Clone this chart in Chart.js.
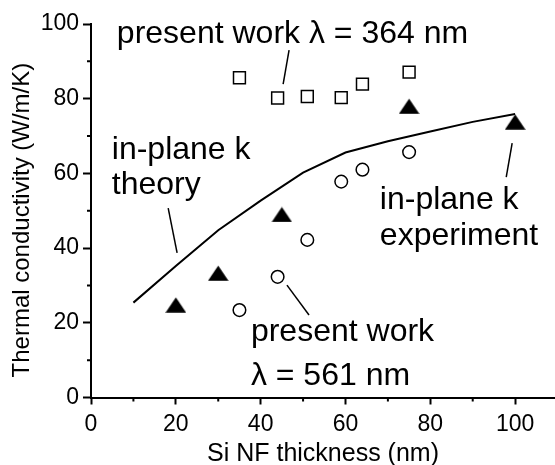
<!DOCTYPE html>
<html>
<head>
<meta charset="utf-8">
<title>Si NF thermal conductivity</title>
<script src="https://cdn.jsdelivr.net/npm/chart.js@4.4.0/dist/chart.umd.min.js"></script>
<style>
    html, body { margin: 0; padding: 0; background: #fff; }
    canvas { display: block; }
</style>
</head>
<body>
<canvas id="kChart" width="555" height="465"></canvas>
<script>
// axis ticks
const xTicks = [0, 20, 40, 60, 80, 100];
const yTicks = [0, 20, 40, 60, 80, 100];

// in-plane k, theory curve
const theoryX = [10, 20, 30, 40, 50, 60, 70, 80, 90, 100];
const theoryK = [25.4, 35.2, 44.8, 52.7, 60.2, 65.6, 68.6, 71.2, 73.8, 75.9];

// in-plane k, experiment
const expX = [20, 30, 45, 75, 100];
const expK = [24.8, 33.3, 49, 78, 73.8];

// present work, both wavelengths share the same films
const workX = [35, 44, 51, 59, 64, 75];
const work364 = [85.6, 80.2, 80.6, 80.3, 83.9, 87.1];
const work561 = [23.4, 32.3, 42.2, 57.8, 61, 65.7];

const FONT = '"Liberation Sans", Arial, Helvetica, sans-serif';

// labels and their leader lines, placed in data units
const notes = [
    { lines: ['present work \u03bb = 364 nm'], x: 6.1, y: [95.0] },
    { lines: ['in-plane k', 'theory'], x: 4.9, y: [63.9, 54.5] },
    { lines: ['in-plane k', 'experiment'], x: 68.1, y: [50.5, 40.8] },
    { lines: ['present work', '\u03bb = 561 nm'], x: 37.7, y: [15.0, 3.35] }
];
const leaders = [
    [46.7, 93.0, 45.3, 83.9],
    [18.2, 50.7, 20.3, 38.7],
    [99.3, 68.1, 97.9, 59.0],
    [46.2, 30.1, 51.4, 22.1]
];

function pairs(xs, ys) {
    return xs.map((x, i) => ({ x: x, y: ys[i] }));
}

// filled triangle, a bit wider than tall
function triangleMarker() {
    const c = document.createElement('canvas');
    c.width = 21;
    c.height = 16;
    const g = c.getContext('2d');
    g.fillStyle = '#000';
    g.beginPath();
    g.moveTo(10.5, 0.5);
    g.lineTo(20.8, 15.7);
    g.lineTo(0.2, 15.7);
    g.closePath();
    g.fill();
    return c;
}

const decorations = {
    id: 'decorations',
    afterDraw(chart) {
        const ctx = chart.ctx;
        const xs = chart.scales.x;
        const ys = chart.scales.y;
        const area = chart.chartArea;

        ctx.save();
        ctx.strokeStyle = '#000';
        ctx.fillStyle = '#000';

        // minor ticks between the labelled ones
        ctx.lineWidth = 2;
        ctx.beginPath();
        for (let i = 0; i < xTicks.length - 1; i++) {
            const px = xs.getPixelForValue((xTicks[i] + xTicks[i + 1]) / 2);
            ctx.moveTo(px, area.bottom);
            ctx.lineTo(px, area.bottom + 4);
        }
        for (let i = 0; i < yTicks.length - 1; i++) {
            const py = ys.getPixelForValue((yTicks[i] + yTicks[i + 1]) / 2);
            ctx.moveTo(area.left, py);
            ctx.lineTo(area.left - 4, py);
        }
        ctx.stroke();

        // leader lines
        ctx.lineWidth = 1.5;
        leaders.forEach(l => {
            ctx.beginPath();
            ctx.moveTo(xs.getPixelForValue(l[0]), ys.getPixelForValue(l[1]));
            ctx.lineTo(xs.getPixelForValue(l[2]), ys.getPixelForValue(l[3]));
            ctx.stroke();
        });

        // annotation text
        ctx.font = '32px ' + FONT;
        ctx.textAlign = 'left';
        ctx.textBaseline = 'alphabetic';
        notes.forEach(n => {
            n.lines.forEach((t, i) => {
                ctx.fillText(t, xs.getPixelForValue(n.x), ys.getPixelForValue(n.y[i]));
            });
        });

        // axis titles
        ctx.textAlign = 'center';
        ctx.font = '25px ' + FONT;
        ctx.fillText('Si NF thickness (nm)', (area.left + area.right) / 2, 461);

        ctx.font = '24px ' + FONT;
        ctx.textBaseline = 'middle';
        ctx.translate(22, ys.getPixelForValue(47.5));
        ctx.rotate(-Math.PI / 2);
        ctx.fillText('Thermal conductivity (W/m/K)', 0, 0);
        ctx.restore();
    }
};

new Chart(document.getElementById('kChart'), {
    type: 'scatter',
    data: {
        datasets: [
            {
                label: 'in-plane k theory',
                data: pairs(theoryX, theoryK),
                showLine: true,
                tension: 0,
                borderColor: '#000',
                borderWidth: 2,
                pointRadius: 0
            },
            {
                label: 'present work 364 nm',
                data: pairs(workX, work364),
                pointStyle: 'rect',
                pointRadius: 8.4,
                borderColor: '#000',
                borderWidth: 1.5,
                backgroundColor: '#fff'
            },
            {
                label: 'present work 561 nm',
                data: pairs(workX, work561),
                pointStyle: 'circle',
                pointRadius: 6.3,
                borderColor: '#000',
                borderWidth: 1.5,
                backgroundColor: '#fff'
            },
            {
                label: 'in-plane k experiment',
                data: pairs(expX, expK),
                pointStyle: triangleMarker(),
                pointRadius: 10
            }
        ]
    },
    options: {
        responsive: false,
        animation: false,
        events: [],
        // axis runs out to the canvas edge, so no extra room for marker overflow
        layout: { autoPadding: false, padding: { top: 24, left: 0, right: 0, bottom: 0 } },
        plugins: {
            legend: { display: false },
            tooltip: { enabled: false }
        },
        scales: {
            x: {
                type: 'linear',
                min: 0,
                max: 109.4,
                afterBuildTicks: s => { s.ticks = xTicks.map(v => ({ value: v })); },
                afterFit: s => {
                    s.height = 67.5;
                    s.paddingLeft = 0;
                    s.paddingRight = 0;
                },
                border: { display: true, color: '#000', width: 2 },
                grid: { drawOnChartArea: false, tickLength: 7, tickWidth: 2, tickColor: '#000' },
                ticks: {
                    color: '#000',
                    font: { family: FONT, size: 23 },
                    padding: 6,
                    maxRotation: 0,
                    autoSkip: false
                }
            },
            y: {
                min: 0,
                max: 100,
                afterBuildTicks: s => { s.ticks = yTicks.map(v => ({ value: v })); },
                afterFit: s => { s.width = 91; },
                border: { display: true, color: '#000', width: 2 },
                grid: { drawOnChartArea: false, tickLength: 8, tickWidth: 2, tickColor: '#000' },
                ticks: {
                    color: '#000',
                    font: { family: FONT, size: 23 },
                    padding: 4
                }
            }
        }
    },
    plugins: [decorations]
});
</script>
</body>
</html>
